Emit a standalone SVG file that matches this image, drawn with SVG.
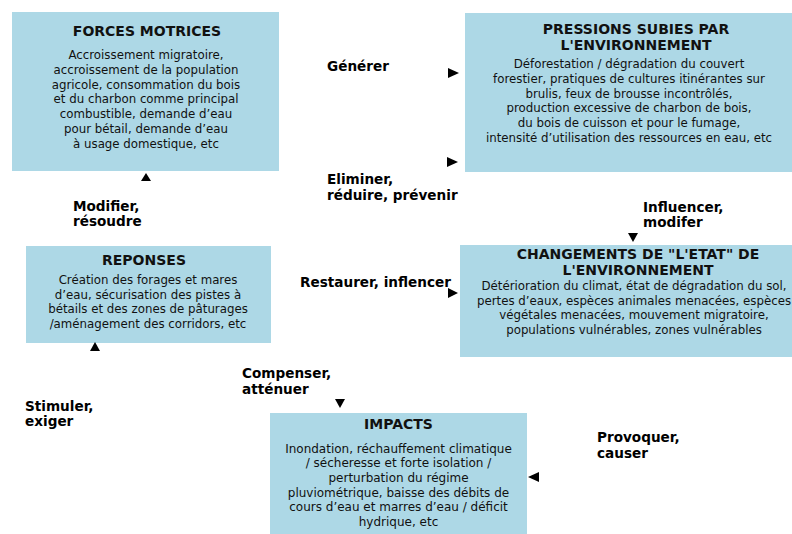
<svg xmlns="http://www.w3.org/2000/svg" width="792" height="534" viewBox="0 0 792 534">
<style>
.box{fill:#ADD8E6;stroke:none}
.t{font-family:"DejaVu Sans",Verdana,sans-serif;font-weight:bold;font-size:14px;fill:#111;text-anchor:middle}
.b{font-family:"DejaVu Sans",Verdana,sans-serif;font-size:11.8px;fill:#111;text-anchor:middle}
.bi{font-family:"DejaVu Sans",Verdana,sans-serif;font-size:12px;fill:#111;text-anchor:middle}
.l{font-family:"DejaVu Sans",Verdana,sans-serif;font-weight:bold;font-size:13.6px;fill:#000}
.a{fill:#000}
</style>
<rect width="792" height="534" fill="#fff"/>
<g id="forces">
<rect class="box" x="12" y="12" width="267" height="159"/>
<text class="t" x="147" y="36">FORCES MOTRICES</text>
<text class="b" x="146" y="59.3">Accroissement migratoire,</text>
<text class="b" x="146" y="74">accroissement de la population</text>
<text class="b" x="146" y="88.7">agricole, consommation du bois</text>
<text class="b" x="146" y="103.4">et du charbon comme principal</text>
<text class="b" x="146" y="118.1">combustible, demande d’eau</text>
<text class="b" x="146" y="132.8">pour bétail, demande d’eau</text>
<text class="b" x="146" y="147.5">à usage domestique, etc</text>
</g>
<g id="pressions">
<rect class="box" x="465" y="13" width="327" height="159"/>
<text class="t" x="636" y="34">PRESSIONS SUBIES PAR</text>
<text class="t" x="636" y="50">L'ENVIRONNEMENT</text>
<text class="b" x="629" y="68.3">Déforestation / dégradation du couvert</text>
<text class="b" x="629" y="83">forestier, pratiques de cultures itinérantes sur</text>
<text class="b" x="629" y="97.7">brulis, feux de brousse incontrôlés,</text>
<text class="b" x="629" y="112.4">production excessive de charbon de bois,</text>
<text class="b" x="629" y="127.1">du bois de cuisson et pour le fumage,</text>
<text class="b" x="629" y="141.8">intensité d’utilisation des ressources en eau, etc</text>
</g>
<g id="reponses">
<rect class="box" x="26" y="246" width="245" height="97"/>
<text class="t" x="144" y="265.3">REPONSES</text>
<text class="b" x="148" y="284">Création des forages et mares</text>
<text class="b" x="148" y="298.7">d’eau, sécurisation des pistes à</text>
<text class="b" x="148" y="313.4">bétails et des zones de pâturages</text>
<text class="b" x="148" y="328.1">/aménagement des corridors, etc</text>
</g>
<g id="changements">
<rect class="box" x="460" y="245" width="332" height="112"/>
<text class="t" x="638" y="259.3">CHANGEMENTS DE "L'ETAT" DE</text>
<text class="t" x="638" y="275">L'ENVIRONNEMENT</text>
<text class="b" x="634" y="290">Détérioration du climat, état de dégradation du sol,</text>
<text class="b" x="634" y="304.7">pertes d’eaux, espèces animales menacées, espèces</text>
<text class="b" x="634" y="319.4">végétales menacées, mouvement migratoire,</text>
<text class="b" x="634" y="334.1">populations vulnérables, zones vulnérables</text>
</g>
<g id="impacts">
<rect class="box" x="270" y="413" width="257" height="121"/>
<text class="t" x="398.5" y="429">IMPACTS</text>
<text class="bi" x="398.5" y="452.7">Inondation, réchauffement climatique</text>
<text class="bi" x="398.5" y="467.3">/ sécheresse et forte isolation /</text>
<text class="bi" x="398.5" y="481.9">perturbation du régime</text>
<text class="bi" x="398.5" y="496.5">pluviométrique, baisse des débits de</text>
<text class="bi" x="398.5" y="511.1">cours d’eau et marres d’eau / déficit</text>
<text class="bi" x="398.5" y="525.7">hydrique, etc</text>
</g>
<g id="connectors">
<polygon class="a" points="448,68 448,78 459,73"/>
<polygon class="a" points="447,157 447,167 458,162"/>
<polygon class="a" points="628,233 638,233 633,242"/>
<polygon class="a" points="448,288 448,298 458,293"/>
<polygon class="a" points="535,472 535,482 524,477" transform="translate(4,0)"/>
<polygon class="a" points="335,399 345,399 340,408"/>
<polygon class="a" points="146,173 141,181 151,181"/>
<polygon class="a" points="95,342 90,351 100,351"/>
<text class="l" x="327" y="71">Générer</text>
<text class="l" x="327" y="184">Eliminer,</text>
<text class="l" x="327" y="200">réduire, prévenir</text>
<text class="l" x="643" y="212">Influencer,</text>
<text class="l" x="643" y="227">modifer</text>
<text class="l" x="300" y="287">Restaurer, inflencer</text>
<text class="l" x="73" y="211">Modifier,</text>
<text class="l" x="73" y="226">résoudre</text>
<text class="l" x="242" y="378">Compenser,</text>
<text class="l" x="242" y="394">atténuer</text>
<text class="l" x="25" y="411">Stimuler,</text>
<text class="l" x="25" y="426">exiger</text>
<text class="l" x="597" y="442">Provoquer,</text>
<text class="l" x="597" y="458">causer</text>
</g>
</svg>
